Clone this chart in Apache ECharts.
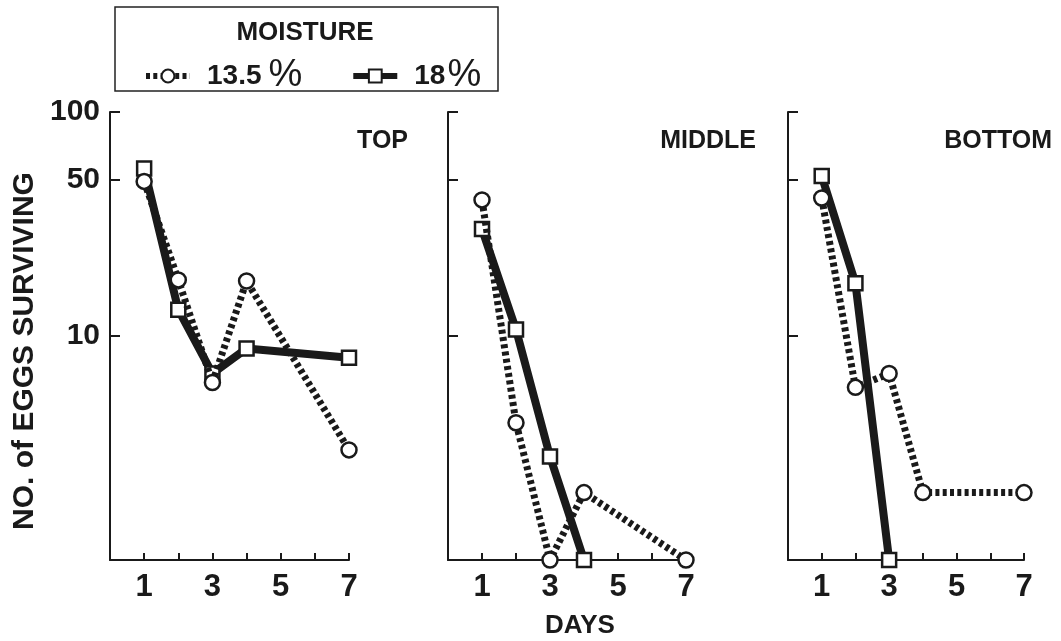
<!DOCTYPE html>
<html>
<head>
<meta charset="utf-8">
<script src="https://cdn.jsdelivr.net/npm/echarts@6/dist/echarts.min.js"></script>
<style>
  html, body { margin: 0; padding: 0; background: #fff; }
  #chart { width: 1061px; height: 641px; }
</style>
</head>
<body>
<div id="chart"></div>
<script>
// eggs surviving vs days, log scale, three depths
var days = [1, 2, 3, 4, 7];
var panelNames = ['TOP', 'MIDDLE', 'BOTTOM'];
var seriesNames = ['13.5 %', '18%'];

var top13 = [49, 17.8, 6.2, 17.6, 3.1];
var top18 = [56, 13.1, 6.8, 8.8, 8.0];
var mid13 = [40.5, 4.1, 1, 2, 1];
var mid18 = [30, 10.7, 2.9, 1];
var bot13 = [41.3, 5.9, 6.8, 2, 2];
var bot18 = [51.8, 17.2, 1];

var yTicks = [10, 50, 100];
var xTicks = [1, 2, 3, 4, 5, 6, 7];
var xLabels = [1, 3, 5, 7];

var FONT = '"Liberation Sans", Arial, Helvetica, sans-serif';
var INK = '#1a1a1a';

var chart = echarts.init(document.getElementById('chart'), null, { renderer: 'canvas' });

var panelData = [
  [top13, top18],
  [mid13, mid18],
  [bot13, bot18]
];

// panel geometry
var gridLeft = [110, 448, 788];
var gridWidth = [239, 238, 236];

function pairs(vals) {
  return vals.map(function (v, i) { return [days[i], v]; });
}

var dotLine = { color: INK, width: 7, type: [4, 3.3], cap: 'butt' };
var solidLine = { color: INK, width: 8, type: 'solid' };
var markStyle = { color: '#fff', borderColor: INK, borderWidth: 2.5 };

var grids = [], xAxes = [], yAxes = [], series = [], titles = [];

for (var p = 0; p < 3; p++) {
  grids.push({ left: gridLeft[p], width: gridWidth[p], top: 112, height: 448, outerBoundsMode: 'none', containLabel: false });

  xAxes.push({
    gridIndex: p,
    type: 'value',
    min: 0,
    max: 7,
    interval: 1,
    splitLine: { show: false },
    axisLine: { lineStyle: { color: INK, width: 2 } },
    axisTick: { inside: true, length: 7, customValues: xTicks, lineStyle: { color: INK, width: 2 } },
    axisLabel: {
      customValues: xLabels, margin: 12,
      color: INK, fontSize: 31, fontWeight: 'bold', fontFamily: FONT
    },
    name: p === 1 ? 'DAYS' : '',
    nameLocation: 'middle',
    nameGap: 53,
    nameTextStyle: { color: INK, fontSize: 26, fontWeight: 'bold', fontFamily: FONT, padding: [0, 0, 0, 26] }
  });

  yAxes.push({
    gridIndex: p,
    type: 'log',
    logBase: 10,
    min: 1,
    max: 100,
    splitLine: { show: false },
    axisLine: { show: true, lineStyle: { color: INK, width: 2 } },
    axisTick: { inside: true, length: 10, customValues: yTicks, lineStyle: { color: INK, width: 2 } },
    axisLabel: {
      show: p === 0, customValues: yTicks, margin: 10,
      color: INK, fontSize: 30, fontWeight: 'bold', fontFamily: FONT
    },
    name: p === 0 ? 'NO. of EGGS SURVIVING' : '',
    nameLocation: 'middle',
    nameGap: 70,
    nameTextStyle: { color: INK, fontSize: 30, fontWeight: 'bold', fontFamily: FONT, padding: [0, 0, 0, -30] }
  });

  series.push({
    name: seriesNames[1],
    type: 'line',
    xAxisIndex: p,
    yAxisIndex: p,
    data: pairs(panelData[p][1]),
    clip: false,
    symbol: 'rect',
    symbolSize: 14,
    lineStyle: solidLine,
    itemStyle: markStyle,
    z: 2
  });

  series.push({
    name: seriesNames[0],
    type: 'line',
    xAxisIndex: p,
    yAxisIndex: p,
    data: pairs(panelData[p][0]),
    clip: false,
    symbol: 'circle',
    symbolSize: 15,
    lineStyle: dotLine,
    itemStyle: markStyle,
    z: 3
  });

  titles.push({
    text: panelNames[p],
    right: [648, 300, 4][p],
    top: 124,
    textStyle: { color: INK, fontSize: 25, fontWeight: 'bold', fontFamily: FONT }
  });
}

titles.push({
  text: 'MOISTURE',
  left: 300,
  top: 15,
  textAlign: 'center',
  textStyle: { color: INK, fontSize: 26, fontWeight: 'bold', fontFamily: FONT }
});

chart.setOption({
  backgroundColor: '#fff',
  animation: false,
  title: titles,
  legend: {
    data: seriesNames,
    left: 138,
    top: 52,
    itemWidth: 44,
    itemHeight: 16,
    itemGap: 48,
    lineStyle: { width: 6 },
    formatter: function (name) {
      return name === seriesNames[0] ? '{n|13.5}{p|%}' : '{m|18}{p|%}';
    },
    textStyle: {
      color: INK,
      rich: {
        n: { fontSize: 28, fontWeight: 'bold', fontFamily: FONT, color: INK, padding: [0, 7, 0, 12] },
        m: { fontSize: 28, fontWeight: 'bold', fontFamily: FONT, color: INK, padding: [0, 2, 0, 12] },
        p: { fontSize: 38, fontFamily: FONT, color: INK }
      }
    }
  },
  graphic: [{
    type: 'rect',
    shape: { x: 115, y: 7, width: 383, height: 84 },
    style: { fill: 'none', stroke: '#222', lineWidth: 1.5 }
  }],
  grid: grids,
  xAxis: xAxes,
  yAxis: yAxes,
  series: series
});
</script>
</body>
</html>
